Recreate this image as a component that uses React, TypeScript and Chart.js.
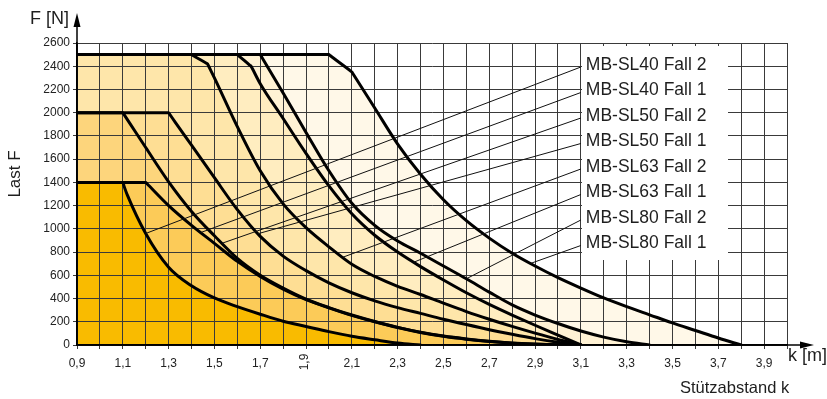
import React, { useEffect, useRef } from 'react';
import { Chart, registerables } from 'chart.js';

Chart.register(...registerables);

const FONT = '"Liberation Sans", Arial, Helvetica, sans-serif';

const seriesLabels = [
  'MB-SL40 Fall 2',
  'MB-SL40 Fall 1',
  'MB-SL50 Fall 2',
  'MB-SL50 Fall 1',
  'MB-SL63 Fall 2',
  'MB-SL63 Fall 1',
  'MB-SL80 Fall 2',
  'MB-SL80 Fall 1',
];

// Stützabstand k [m] and Last F [N] for each curve
const kSL40F2 = [0.9, 1.1, 1.105, 1.12, 1.2, 1.3, 1.4, 1.5, 1.6, 1.7, 1.8, 1.9, 2.0, 2.1, 2.2, 2.3, 2.4];
const fSL40F2 = [1400, 1400, 1370, 1290, 960, 670, 510, 405, 330, 265, 205, 160, 115, 75, 45, 17, 0];

const kSL40F1 = [0.9, 1.2, 1.205, 1.3, 1.4, 1.5, 1.6, 1.7, 1.8, 1.9, 2.0, 2.1, 2.2, 2.3, 2.4, 2.5, 2.6, 2.7, 2.8, 2.9, 3.0, 3.1];
const fSL40F1 = [1400, 1400, 1390, 1200, 1030, 875, 720, 590, 480, 390, 320, 255, 200, 150, 108, 75, 50, 30, 16, 7, 2, 0];

const kSL50F2 = [0.9, 1.1, 1.105, 1.13, 1.2, 1.3, 1.4, 1.5, 1.6, 1.7, 1.8, 1.9, 2.0, 2.1, 2.2, 2.3, 2.4, 2.5, 2.6, 2.7, 2.8, 2.9, 3.0, 3.1];
const fSL50F2 = [2000, 2000, 1985, 1910, 1700, 1405, 1150, 940, 745, 600, 490, 395, 322, 258, 202, 152, 110, 77, 52, 32, 17, 8, 2, 0];

const kSL50F1 = [0.9, 1.3, 1.305, 1.33, 1.4, 1.5, 1.6, 1.7, 1.8, 1.9, 2.0, 2.1, 2.2, 2.3, 2.4, 2.5, 2.6, 2.7, 2.8, 2.9, 3.0, 3.1];
const fSL50F1 = [2000, 2000, 1986, 1915, 1720, 1440, 1165, 935, 765, 640, 535, 450, 380, 322, 272, 222, 176, 132, 92, 55, 24, 0];

const kSL63F2 = [0.9, 1.4, 1.405, 1.465, 1.47, 1.475, 1.5, 1.6, 1.7, 1.8, 1.9, 2.0, 2.1, 2.2, 2.3, 2.4, 2.5, 2.6, 2.7, 2.8, 2.9, 3.0, 3.1];
const fSL63F2 = [2500, 2500, 2494, 2426, 2420, 2400, 2300, 1880, 1500, 1215, 1010, 845, 695, 590, 505, 435, 360, 288, 222, 160, 102, 48, 0];

const kSL63F1 = [0.9, 1.6, 1.605, 1.655, 1.66, 1.665, 1.7, 1.8, 1.9, 2.0, 2.1, 2.2, 2.3, 2.4, 2.5, 2.6, 2.7, 2.8, 2.9, 3.0, 3.1];
const fSL63F1 = [2500, 2500, 2492, 2408, 2400, 2382, 2250, 1950, 1650, 1370, 1130, 945, 800, 675, 560, 450, 350, 258, 170, 85, 0];

const kSL80F2 = [0.9, 1.7, 1.705, 1.8, 1.9, 2.0, 2.1, 2.2, 2.3, 2.4, 2.5, 2.6, 2.7, 2.8, 2.9, 3.0, 3.1, 3.2, 3.3, 3.4];
const fSL80F2 = [2500, 2500, 2484, 2170, 1830, 1500, 1220, 1030, 895, 790, 680, 570, 455, 345, 258, 185, 120, 68, 28, 0];

const kSL80F1 = [0.9, 2.0, 2.005, 2.095, 2.1, 2.105, 2.2, 2.3, 2.4, 2.5, 2.6, 2.7, 2.8, 2.9, 3.0, 3.1, 3.2, 3.3, 3.4, 3.5, 3.6, 3.7, 3.8];
const fSL80F1 = [2500, 2500, 2492, 2358, 2350, 2335, 2040, 1730, 1470, 1250, 1070, 920, 790, 680, 580, 490, 405, 330, 260, 190, 125, 60, 0];

const seriesK = [kSL40F2, kSL40F1, kSL50F2, kSL50F1, kSL63F2, kSL63F1, kSL80F2, kSL80F1];
const seriesF = [fSL40F2, fSL40F1, fSL50F2, fSL50F1, fSL63F2, fSL63F1, fSL80F2, fSL80F1];

const fillColors = ['#F9BB00', '#FCCB58', '#FDD57C', '#FEDE94', '#FEE6AA', '#FFEDC0', '#FFF2D4', '#FFF8E8'];

// where each label's leader line touches its curve (k value)
const leaderK = [1.2, 1.44, 1.533, 1.69, 2.06, 2.37, 2.6, 2.88];

const xTickLabels = ['0,9', '1,1', '1,3', '1,5', '1,7', '1,9', '2,1', '2,3', '2,5', '2,7', '2,9', '3,1', '3,3', '3,5', '3,7', '3,9'];
const rotatedTickLabel = '1,9';
const xMin = 0.9, xMax = 4.0, xStep = 0.1;
const yMin = 0, yMax = 2600, yStep = 200;

function interp(ks: number[], fs: number[], k: number) {
  for (let i = 0; i < ks.length - 1; i++) {
    if (k >= ks[i] && k <= ks[i + 1]) {
      const t = (k - ks[i]) / (ks[i + 1] - ks[i]);
      return fs[i] + t * (fs[i + 1] - fs[i]);
    }
  }
  return fs[fs.length - 1];
}

const decorPlugin = {
  id: 'decor',
  afterDatasetsDraw(chart: any) {
    const { ctx, chartArea: a, scales } = chart;
    const xs = scales.x, ys = scales.y;
    ctx.save();

    const boxLeft = xs.getPixelForValue(3.1);
    // legend box
    ctx.fillStyle = '#ffffff';
    ctx.fillRect(Math.round(boxLeft) + 1, a.top + 3, 146, 214);

    ctx.font = `17.5px ${FONT}`;
    ctx.fillStyle = '#1e1e1e';
    ctx.textBaseline = 'middle';
    ctx.textAlign = 'left';
    seriesLabels.forEach((lab, i) => {
      const ly = a.top + 22 + i * 25.5;
      ctx.fillText(lab, boxLeft + 5, ly);
      const k = leaderK[i];
      const f = interp(seriesK[i], seriesF[i], k);
      ctx.beginPath();
      ctx.moveTo(boxLeft, ly + 2);
      ctx.lineTo(xs.getPixelForValue(k), ys.getPixelForValue(f));
      ctx.lineWidth = 1;
      ctx.strokeStyle = '#111';
      ctx.stroke();
    });

    // y axis arrow
    ctx.strokeStyle = '#000';
    ctx.fillStyle = '#000';
    ctx.lineWidth = 1.5;
    ctx.beginPath();
    ctx.moveTo(a.left, a.bottom);
    ctx.lineTo(a.left, 22);
    ctx.stroke();
    ctx.beginPath();
    ctx.moveTo(a.left, 13);
    ctx.lineTo(a.left - 3.5, 27);
    ctx.lineTo(a.left + 3.5, 27);
    ctx.closePath();
    ctx.fill();

    // x axis arrow
    ctx.beginPath();
    ctx.moveTo(a.left, a.bottom);
    ctx.lineTo(806, a.bottom);
    ctx.stroke();
    ctx.beginPath();
    ctx.moveTo(814, a.bottom);
    ctx.lineTo(800, a.bottom - 3.5);
    ctx.lineTo(800, a.bottom + 3.5);
    ctx.closePath();
    ctx.fill();

    // axis titles
    ctx.fillStyle = '#1e1e1e';
    ctx.font = `18px ${FONT}`;
    ctx.textAlign = 'right';
    ctx.fillText('F [N]', 69, 19);
    ctx.textAlign = 'left';
    ctx.fillText('k [m]', 788, a.bottom + 11);
    ctx.font = `16.5px ${FONT}`;
    ctx.fillText('Stützabstand k', 680, 388);

    ctx.save();
    ctx.translate(15, 174);
    ctx.rotate(-Math.PI / 2);
    ctx.textAlign = 'center';
    ctx.font = `17px ${FONT}`;
    ctx.fillText('Last F', 0, 0);
    ctx.restore();

    // the one rotated tick label
    const v = parseFloat(rotatedTickLabel.replace(',', '.'));
    ctx.save();
    ctx.translate(xs.getPixelForValue(v) - 1, a.bottom + 17);
    ctx.rotate(-Math.PI / 2);
    ctx.textAlign = 'center';
    ctx.font = `12px ${FONT}`;
    ctx.fillStyle = '#222';
    ctx.fillText(rotatedTickLabel, 0, 0);
    ctx.restore();

    ctx.restore();
  },
};

export default function App() {
  const canvasRef = useRef<HTMLCanvasElement | null>(null);

  useEffect(() => {
    const canvas = canvasRef.current;
    if (!canvas) return;
    const datasets = seriesLabels.map((label, i) => ({
      label,
      data: seriesK[i].map((k, j) => ({ x: k, y: seriesF[i][j] })),
      borderColor: '#000000',
      borderWidth: 3,
      backgroundColor: fillColors[i],
      fill: 'origin',
      pointRadius: 0,
      cubicInterpolationMode: 'monotone',
      borderJoinStyle: 'round',
      borderCapStyle: 'round',
    }));

    const chart = new Chart(canvas, {
      type: 'line',
      data: { datasets } as any,
      options: {
        responsive: false,
        animation: false,
        devicePixelRatio: 1,
        layout: { padding: { left: 0, top: 43, right: 40, bottom: 0 } },
        plugins: {
          legend: { display: false },
          tooltip: { enabled: false },
          filler: { drawTime: 'beforeDraw' },
        } as any,
        scales: {
          x: {
            type: 'linear',
            min: xMin,
            max: xMax,
            ticks: {
              stepSize: xStep,
              autoSkip: false,
              maxRotation: 0,
              minRotation: 0,
              padding: 7,
              color: '#222',
              font: { family: FONT, size: 12 },
              callback: (value: any) => {
                const s = Number(value).toFixed(1).replace('.', ',');
                return xTickLabels.includes(s) && s !== rotatedTickLabel ? s : '';
              },
            },
            grid: { color: '#3a3a3a', lineWidth: 1, tickLength: 4, tickColor: '#3a3a3a' },
            border: { color: '#000', width: 1.5 },
            afterFit: (s: any) => { s.height = 54; },
          },
          y: {
            type: 'linear',
            min: yMin,
            max: yMax,
            ticks: {
              stepSize: yStep,
              padding: 3,
              color: '#222',
              font: { family: FONT, size: 12 },
              callback: (value: any) => String(Math.round(Number(value))),
            },
            grid: { color: '#3a3a3a', lineWidth: 1, tickLength: 4, tickColor: '#3a3a3a' },
            border: { color: '#000', width: 1.5 },
            afterFit: (s: any) => { s.width = 77; },
          },
        },
      } as any,
      plugins: [decorPlugin],
    });
    return () => chart.destroy();
  }, []);

  return (
    <div style={{ position: 'fixed', left: 0, top: 0, width: 827, height: 399, background: '#fff' }}>
      <canvas ref={canvasRef} width={827} height={399} style={{ display: 'block' }} />
    </div>
  );
}
